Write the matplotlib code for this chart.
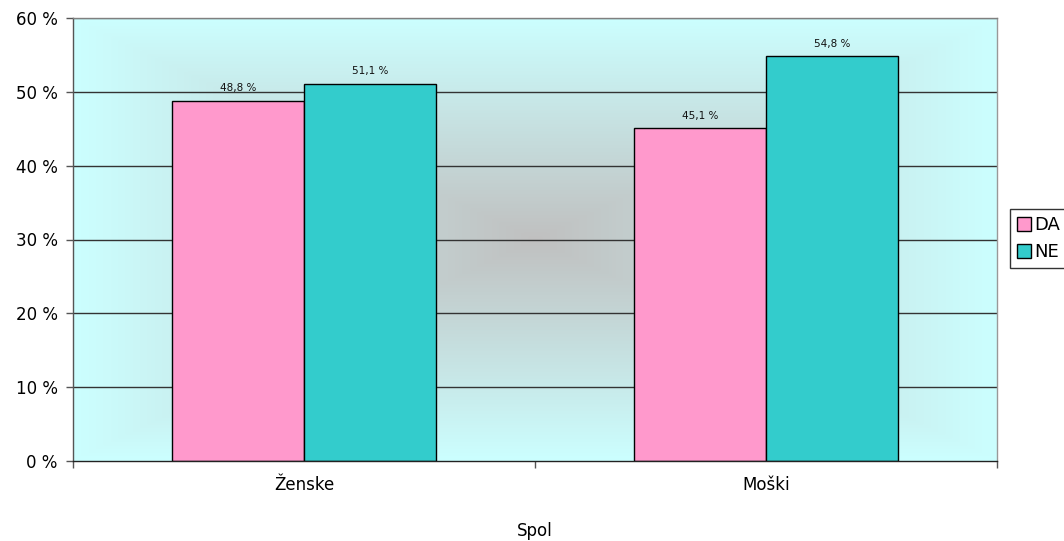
import matplotlib.pyplot as plt
import numpy as np
from matplotlib.patches import Patch

categories = ['Ženske', 'Moški']
series_names = ['DA', 'NE']
da_values = [48.8, 45.1]
ne_values = [51.1, 54.8]
y_ticks = [0, 10, 20, 30, 40, 50, 60]
y_tick_labels = ['0 %', '10 %', '20 %', '30 %', '40 %', '50 %', '60 %']

PINK = '#FF99CC'
TEAL = '#33CCCC'

plt.rcParams['font.family'] = ['DejaVu Sans']

fig = plt.figure(figsize=(10.64, 5.41), dpi=100)
ax = fig.add_axes([73 / 1064, 1 - 461 / 541, 924 / 1064, 443 / 541])

# rectangular "from centre" fill: grey in the middle, pale cyan at the edges
ny, nx = 221, 462
yy, xx = np.mgrid[-1:1:ny * 1j, -1:1:nx * 1j]
t = np.maximum(np.abs(xx), np.abs(yy))[..., None]
grey = np.array([192, 192, 192]) / 255
cyan = np.array([204, 255, 255]) / 255
bg = grey + (cyan - grey) * t
ax.imshow(bg, extent=[0, 2, 0, 60], aspect='auto', zorder=0, interpolation='bilinear')

x = np.arange(len(categories)) + 0.5
w = 1 / 3.5

ax.set_xlim(0, 2)
ax.set_ylim(0, 60)
for yv in y_ticks[1:]:
    ax.axhline(yv, color='#333333' if yv < 60 else '#808080', lw=1, zorder=1)

bars_da = ax.bar(x - w / 2, da_values, w, color=PINK, edgecolor='black', lw=1, zorder=2)
bars_ne = ax.bar(x + w / 2, ne_values, w, color=TEAL, edgecolor='black', lw=1, zorder=2)

for bars, vals in ((bars_da, da_values), (bars_ne, ne_values)):
    for b, v in zip(bars, vals):
        ax.text(b.get_x() + b.get_width() / 2, v + 1.0, f'{v:.1f} %'.replace('.', ','),
                ha='center', va='bottom', fontsize=7.5, color='#111111', zorder=3)

ax.set_yticks(y_ticks)
ax.set_yticklabels(y_tick_labels, fontsize=12)
ax.set_xticks([0, 1, 2])
ax.set_xticklabels([])
ax.set_xticks(x, minor=True)
ax.set_xticklabels(categories, minor=True, fontsize=12)
ax.tick_params(axis='x', which='minor', length=0, pad=11)
ax.tick_params(axis='x', which='major', length=5, width=1, color='#555555', direction='out')
ax.tick_params(axis='y', length=5, width=1, color='#555555', direction='out', pad=6)
ax.set_xlabel('Spol', fontsize=12, labelpad=20)

ax.spines['left'].set_color('#555555')
ax.spines['bottom'].set_color('#222222')
ax.spines['top'].set_color('#808080')
ax.spines['right'].set_color('#999999')
for s in ax.spines.values():
    s.set_linewidth(1)
    s.set_zorder(4)

handles = [Patch(facecolor=PINK, edgecolor='black', lw=1),
           Patch(facecolor=TEAL, edgecolor='black', lw=1)]
leg = fig.legend(handles, series_names, loc='upper left',
                 bbox_to_anchor=(1010 / 1064, 1 - 209 / 541), fontsize=13,
                 frameon=True, fancybox=False, handlelength=0.75, handleheight=0.75,
                 handletextpad=0.2, borderpad=0.4, labelspacing=0.5, borderaxespad=0)
leg.get_frame().set_edgecolor('black')
leg.get_frame().set_linewidth(1)

fig.savefig('out.png', dpi=100)
